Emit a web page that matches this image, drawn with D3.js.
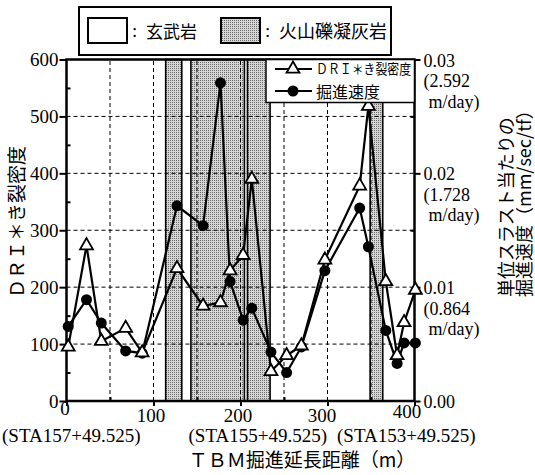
<!DOCTYPE html>
<html>
<head>
<meta charset="utf-8">
<script src="https://cdn.jsdelivr.net/npm/d3@7"></script>
<style>
  body { margin: 0; background: #fff; }
  svg { display: block; }
  svg text { fill: #000; }
</style>
</head>
<body>
<svg id="chart" width="535" height="475"></svg>
<script>
// Measurement stations along the tunnel (m from STA157+49.525)
const distance    = [2, 23, 40, 68, 87, 127, 157, 177, 188, 203, 213, 235, 253, 270, 297, 337, 347, 367, 380, 388, 401];
// DRI x crack density
const driDensity  = [95, 273, 105, 128, 85, 233, 167, 173, 229, 256, 390, 52, 80, 97, 248, 378, 518, 210, 80, 138, 195];
// Advance rate per unit thrust (mm/sec/tf)
const advanceRate = [0.00655, 0.0089, 0.00685, 0.0044, 0.0042, 0.01715, 0.0154, 0.02795, 0.0105, 0.0071, 0.00815,
                     0.0043, 0.0025, 0.00475, 0.01145, 0.01695, 0.01355, 0.0062, 0.0033, 0.0051, 0.0051];
// Sections of volcanic lapilli tuff (m)
const tuffStart = [114, 143, 208, 349];
const tuffEnd   = [132.5, 204.5, 234, 363.5];

const leftTicks  = [0, 100, 200, 300, 400, 500, 600];
const leftMinor  = [50, 150, 250, 350, 450, 550];
const rightTicks = [0, 0.01, 0.02, 0.03];
const rightTickText = ["0.00", "0.01", "0.02", "0.03"];
const rightTickDay  = ["", "(0.864", "(1.728", "(2.592"];
const xTicks     = [0, 100, 200, 300, 400];
const gridX      = [50, 100, 150, 200, 250, 300, 350];
const gridY      = [100, 200, 300, 400, 500];
const stationAt  = [0, 200, 400];
const stationText = ["(STA157+49.525)", "(STA155+49.525)", "(STA153+49.525)"];

const SERIF = "font-family: 'Liberation Serif', 'Times New Roman', serif";
const JP = "font-family: 'Noto Sans CJK JP', 'Noto Sans CJK SC', sans-serif";

const svg = d3.select("#chart");
const x  = d3.scaleLinear().domain([0, 400]).range([66.5, 414.5]);
const y  = d3.scaleLinear().domain([0, 600]).range([401, 59.5]);
const y2 = d3.scaleLinear().domain([0, 0.03]).range([401, 59.5]);

// stippled grey fill
const defs = svg.append("defs");
const pat = defs.append("pattern").attr("id", "stipple")
  .attr("width", 2).attr("height", 2).attr("patternUnits", "userSpaceOnUse");
pat.append("rect").attr("width", 2).attr("height", 2).attr("fill", "#d6d6d6");
pat.append("rect").attr("width", 1).attr("height", 1).attr("fill", "#6a6a6a");

// tuff sections
svg.append("g").selectAll("rect").data(tuffStart).join("rect")
  .attr("x", (d) => x(d))
  .attr("y", y(600))
  .attr("width", (d, i) => x(tuffEnd[i]) - x(d))
  .attr("height", y(0) - y(600))
  .attr("fill", "url(#stipple)")
  .attr("stroke", "#000").attr("stroke-width", 1.6);

// dashed grid
const grid = svg.append("g").attr("stroke", "#000").attr("stroke-width", 1).attr("stroke-dasharray", "4,3");
grid.selectAll(".gx").data(gridX).join("line")
  .attr("x1", (d) => x(d)).attr("x2", (d) => x(d)).attr("y1", y(0)).attr("y2", y(600));
grid.selectAll(".gy").data(gridY).join("line")
  .attr("y1", (d) => y(d)).attr("y2", (d) => y(d)).attr("x1", x(0)).attr("x2", x(400));

// axes
function styleAxis(g, size) {
  g.select(".domain").remove();
  g.attr("font-family", null).attr("font-size", null);
  g.selectAll(".tick line").attr("stroke", "#000").attr("stroke-width", 2);
  g.selectAll(".tick text").attr("fill", "#000")
    .attr("style", `${SERIF}; font-size: ${size}px`);
}
svg.append("g").attr("transform", `translate(${x(0)},0)`)
  .call(d3.axisLeft(y).tickValues(leftTicks).tickSize(7).tickPadding(1).tickFormat(d3.format("d")))
  .call((g) => styleAxis(g, 19));
svg.append("g").attr("transform", `translate(${x(0)},0)`)
  .call(d3.axisRight(y).tickValues(leftMinor).tickSize(4).tickFormat(""))
  .call((g) => styleAxis(g, 19));
svg.append("g").attr("transform", `translate(${x(400)},0)`)
  .call(d3.axisRight(y2).tickValues(rightTicks).tickSize(6).tickFormat(""))
  .call((g) => styleAxis(g, 19));
svg.append("g").attr("transform", `translate(${x(400)},0)`)
  .call(d3.axisLeft(y2).tickValues([0.005, 0.015, 0.025]).tickSize(4).tickFormat(""))
  .call((g) => styleAxis(g, 19));
const xAxis = svg.append("g").attr("transform", `translate(0,${y(0)})`)
  .call(d3.axisBottom(x).tickValues(xTicks).tickSize(5).tickPadding(3).tickFormat(d3.format("d")))
  .call((g) => styleAxis(g, 19));
xAxis.selectAll(".tick text")
  .attr("dy", (d) => (d === 0 ? "0.3em" : d === 400 ? "0.45em" : "0.71em"))
  .attr("dx", (d) => (d === 0 ? -2 : d === 400 ? -8 : d === 300 ? -6 : -3));
svg.append("g").attr("transform", `translate(0,${y(0)})`)
  .call(d3.axisBottom(x).tickValues([50, 150, 250, 350]).tickSize(-4).tickFormat(""))
  .call((g) => styleAxis(g, 19));

// plot frame
svg.append("rect")
  .attr("x", x(0)).attr("y", y(600))
  .attr("width", x(400) - x(0)).attr("height", y(0) - y(600))
  .attr("fill", "none").attr("stroke", "#000").attr("stroke-width", 2.5);

// right axis labels with m/day equivalents
const rl = svg.append("g");
rightTicks.forEach((v, i) => {
  rl.append("text").attr("style", `${SERIF}; font-size: 18px`)
    .attr("x", x(400) + 9).attr("y", y2(v) + 7).text(rightTickText[i]);
  if (rightTickDay[i]) {
    rl.append("text").attr("style", `${SERIF}; font-size: 18px`)
      .attr("x", x(400) + 9).attr("y", y2(v) + 27.5).text(rightTickDay[i]);
    rl.append("text").attr("style", `${SERIF}; font-size: 18px`)
      .attr("x", x(400) + 14).attr("y", y2(v) + 48).text("m/day)");
  }
});

// station labels under the distance axis
const stationDx = [-64.5, -52, -77.5];
svg.append("g").selectAll("text").data(stationAt).join("text")
  .attr("style", `${SERIF}; font-size: 19px`)
  .attr("x", (d, i) => x(d) + stationDx[i]).attr("y", 442)
  .text((d, i) => stationText[i]);

// axis titles
svg.append("text").attr("style", `${JP}; font-size: 19px`)
  .attr("x", 302).attr("y", 467).attr("text-anchor", "middle")
  .text("ＴＢＭ掘進延長距離（m）");
svg.append("text").attr("style", `${JP}; font-size: 19px`)
  .attr("transform", "translate(24,222) rotate(-90)").attr("text-anchor", "middle")
  .text("ＤＲＩ＊き裂密度");
svg.append("text").attr("style", `${JP}; font-size: 18px`)
  .attr("transform", "translate(513,297) rotate(-90)")
  .text("単位スラスト当たりの");
svg.append("text").attr("style", `${JP}; font-size: 18px`)
  .attr("transform", "translate(531,297) rotate(-90)")
  .text("掘進速度（mm/sec/tf）");

// series
const lineDri = d3.line().x((d, i) => x(distance[i])).y((d) => y(d));
const lineRate = d3.line().x((d, i) => x(distance[i])).y((d) => y2(d));
svg.append("path").datum(advanceRate).attr("d", lineRate)
  .attr("fill", "none").attr("stroke", "#000").attr("stroke-width", 2.2);
svg.append("path").datum(driDensity).attr("d", lineDri)
  .attr("fill", "none").attr("stroke", "#000").attr("stroke-width", 2.2);
svg.append("g").selectAll("circle").data(advanceRate).join("circle")
  .attr("cx", (d, i) => x(distance[i])).attr("cy", (d) => y2(d)).attr("r", 5.5).attr("fill", "#000");
const tri = d3.symbol(d3.symbolTriangle, 72);
svg.append("g").selectAll("path").data(driDensity).join("path")
  .attr("d", tri)
  .attr("transform", (d, i) => `translate(${x(distance[i])},${y(d)})`)
  .attr("fill", "#fff").attr("stroke", "#000").attr("stroke-width", 1.8);

// series legend
const lg = svg.append("g");
lg.append("rect").attr("x", 266).attr("y", y(600)).attr("width", x(400) - 266).attr("height", 43)
  .attr("fill", "#fff").attr("stroke", "#000").attr("stroke-width", 1.5);
[69, 91].forEach((ly) => {
  lg.append("line").attr("x1", 275).attr("x2", 312).attr("y1", ly).attr("y2", ly)
    .attr("stroke", "#000").attr("stroke-width", 2);
});
lg.append("path").attr("d", tri).attr("transform", "translate(293,69)")
  .attr("fill", "#fff").attr("stroke", "#000").attr("stroke-width", 1.8);
lg.append("circle").attr("cx", 293).attr("cy", 91).attr("r", 5.5).attr("fill", "#000");
// first entry is set condensed so it fits the box width
lg.append("text").attr("style", `${JP}; font-size: 14px`)
  .attr("transform", "translate(316,74) scale(0.85,1)").text("ＤＲＩ＊き裂密度");
lg.append("text").attr("style", `${JP}; font-size: 16px`).attr("x", 316).attr("y", 98).text("掘進速度");

// rock type legend
const rk = svg.append("g");
rk.append("rect").attr("x", 79).attr("y", 7).attr("width", 312).attr("height", 48)
  .attr("fill", "#fff").attr("stroke", "#000").attr("stroke-width", 2);
rk.append("rect").attr("x", 88).attr("y", 18).attr("width", 39).attr("height", 25)
  .attr("fill", "#fff").attr("stroke", "#000").attr("stroke-width", 2);
rk.append("text").attr("style", `${SERIF}; font-size: 19px`).attr("x", 132).attr("y", 37).text(":");
rk.append("text").attr("style", `${JP}; font-size: 17px`).attr("x", 146).attr("y", 38).text("玄武岩");
rk.append("rect").attr("x", 221).attr("y", 18).attr("width", 39).attr("height", 25)
  .attr("fill", "url(#stipple)").attr("stroke", "#000").attr("stroke-width", 2);
rk.append("text").attr("style", `${SERIF}; font-size: 19px`).attr("x", 265).attr("y", 37).text(":");
rk.append("text").attr("style", `${JP}; font-size: 18px`).attr("x", 279).attr("y", 38).text("火山礫凝灰岩");
</script>
</body>
</html>
